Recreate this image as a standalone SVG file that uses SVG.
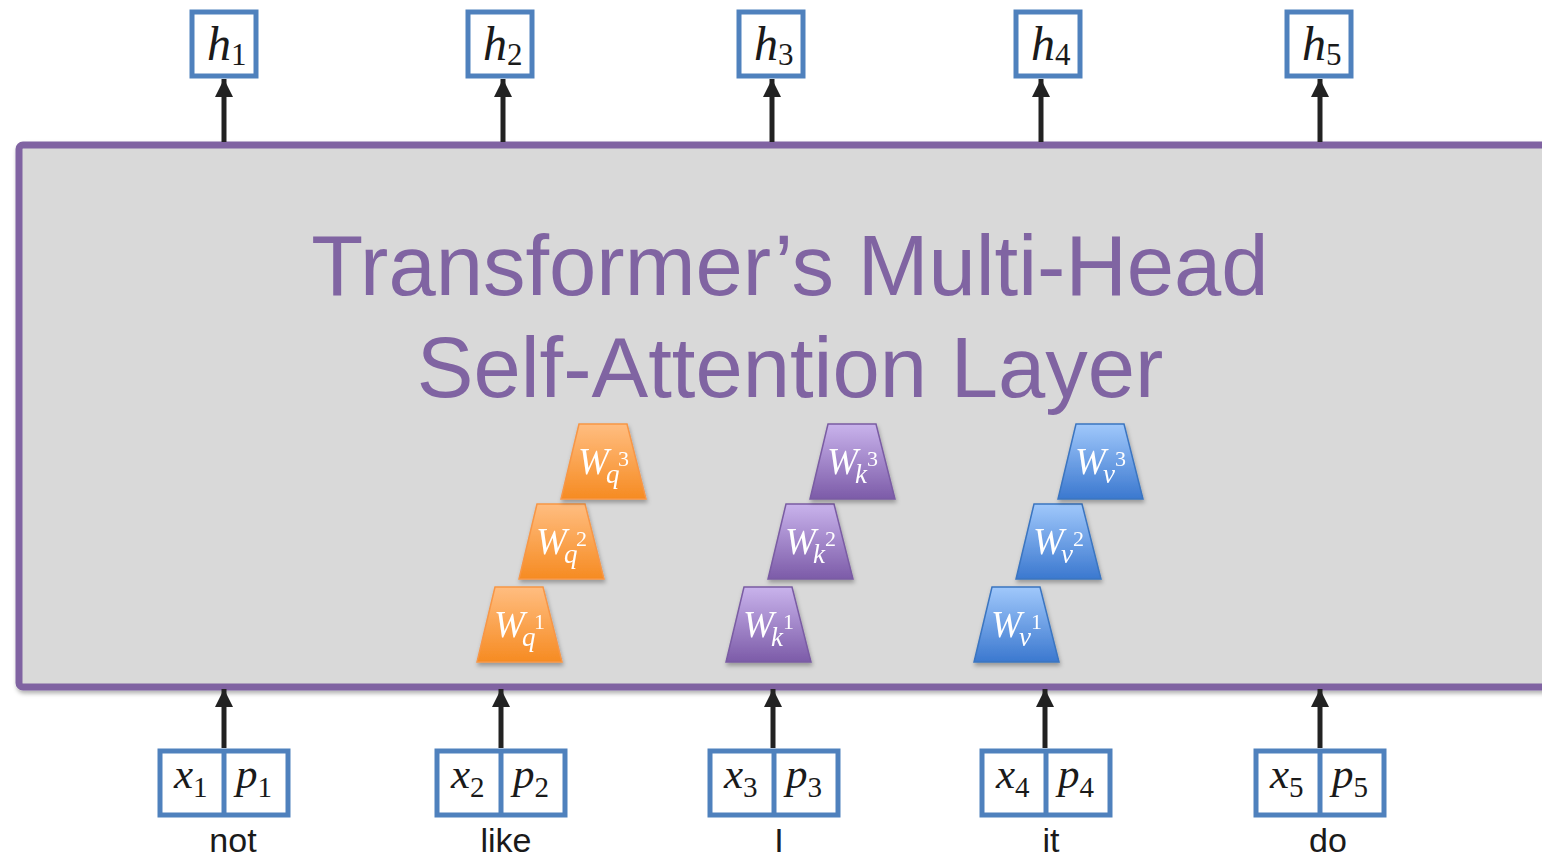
<svg xmlns="http://www.w3.org/2000/svg" width="1542" height="859" viewBox="0 0 1542 859">
<style>
.box{fill:#fff;stroke:#4f81bd;stroke-width:5}
.hm{font-family:"Liberation Serif",serif;font-style:italic;font-size:48px;fill:#1a1a1a}
.hs{font-style:normal;font-size:31px}
.math{font-family:"Liberation Serif",serif;font-style:italic;font-size:43px;fill:#1a1a1a}
.sub{font-style:normal;font-size:29px}
.word{font-family:"Liberation Sans",Arial,sans-serif;font-size:34px;fill:#1a1a1a;text-anchor:middle}
.title{font-family:"Liberation Sans",Arial,sans-serif;font-size:85px;fill:#8064a2;text-anchor:middle}
.arr{stroke:#222;stroke-width:5;fill:none}
.wlab{font-family:"Liberation Serif",serif;font-style:italic;font-size:37px;fill:#fff}
.wsup{font-style:normal;font-size:22px}
.wsub{font-size:27px}
.trq{fill:url(#gq);stroke:#f79646;stroke-width:1.5}
.trk{fill:url(#gk);stroke:#7a5ca3;stroke-width:1.5}
.trv{fill:url(#gv);stroke:#3b75c0;stroke-width:1.5}
</style>
<defs>
<linearGradient id="gq" x1="0" y1="0" x2="0" y2="1"><stop offset="0" stop-color="#ffbd80"/><stop offset="1" stop-color="#f68b22"/></linearGradient>
<linearGradient id="gk" x1="0" y1="0" x2="0" y2="1"><stop offset="0" stop-color="#c9b3ec"/><stop offset="1" stop-color="#7c5ba8"/></linearGradient>
<linearGradient id="gv" x1="0" y1="0" x2="0" y2="1"><stop offset="0" stop-color="#a0c8fb"/><stop offset="1" stop-color="#3b78cf"/></linearGradient>
<filter id="sh" x="-20%" y="-20%" width="140%" height="140%"><feDropShadow dx="1" dy="3" stdDeviation="2" flood-color="#000" flood-opacity="0.3"/></filter>
<marker id="ah" viewBox="0 0 10 10" refX="10" refY="5" markerWidth="3.6" markerHeight="3.6" orient="auto" markerUnits="strokeWidth"><path d="M0,0 L10,5 L0,10 z" fill="#222"/></marker>
</defs>

<g id="layer">
<rect x="19" y="145" width="1560" height="542" rx="4" fill="#d9d9d9" stroke="#8064a2" stroke-width="7" filter="url(#sh)"/>
<text class="title" x="790" y="295">Transformer’s Multi-Head</text>
<text class="title" x="790" y="397">Self-Attention Layer</text>
</g>

<g id="connectors">
<line class="arr" x1="224" y1="142" x2="224" y2="79" marker-end="url(#ah)"/>
<line class="arr" x1="503" y1="142" x2="503" y2="79" marker-end="url(#ah)"/>
<line class="arr" x1="772" y1="142" x2="772" y2="79" marker-end="url(#ah)"/>
<line class="arr" x1="1041" y1="142" x2="1041" y2="79" marker-end="url(#ah)"/>
<line class="arr" x1="1320" y1="142" x2="1320" y2="79" marker-end="url(#ah)"/>
<line class="arr" x1="224" y1="748" x2="224" y2="689" marker-end="url(#ah)"/>
<line class="arr" x1="501" y1="748" x2="501" y2="689" marker-end="url(#ah)"/>
<line class="arr" x1="773" y1="748" x2="773" y2="689" marker-end="url(#ah)"/>
<line class="arr" x1="1045" y1="748" x2="1045" y2="689" marker-end="url(#ah)"/>
<line class="arr" x1="1320" y1="748" x2="1320" y2="689" marker-end="url(#ah)"/>
</g>

<g id="h1"><rect class="box" x="192" y="12" width="64" height="64"/><text class="hm" x="207" y="60">h<tspan class="hs" dy="5">1</tspan></text></g>
<g id="h2"><rect class="box" x="468" y="12" width="64" height="64"/><text class="hm" x="483" y="60">h<tspan class="hs" dy="5">2</tspan></text></g>
<g id="h3"><rect class="box" x="739" y="12" width="64" height="64"/><text class="hm" x="754" y="60">h<tspan class="hs" dy="5">3</tspan></text></g>
<g id="h4"><rect class="box" x="1016" y="12" width="64" height="64"/><text class="hm" x="1031" y="60">h<tspan class="hs" dy="5">4</tspan></text></g>
<g id="h5"><rect class="box" x="1287" y="12" width="64" height="64"/><text class="hm" x="1302" y="60">h<tspan class="hs" dy="5">5</tspan></text></g>

<g id="in1"><rect class="box" x="160" y="751" width="128" height="64"/><line x1="224" y1="751" x2="224" y2="815" stroke="#4f81bd" stroke-width="5"/>
<text class="math" x="174" y="788">x<tspan class="sub" dy="9">1</tspan></text><text class="math" x="236" y="788">p<tspan class="sub" dy="9">1</tspan></text>
<text class="word" x="233" y="852">not</text></g>
<g id="in2"><rect class="box" x="437" y="751" width="128" height="64"/><line x1="501" y1="751" x2="501" y2="815" stroke="#4f81bd" stroke-width="5"/>
<text class="math" x="451" y="788">x<tspan class="sub" dy="9">2</tspan></text><text class="math" x="513" y="788">p<tspan class="sub" dy="9">2</tspan></text>
<text class="word" x="506" y="852">like</text></g>
<g id="in3"><rect class="box" x="710" y="751" width="128" height="64"/><line x1="774" y1="751" x2="774" y2="815" stroke="#4f81bd" stroke-width="5"/>
<text class="math" x="724" y="788">x<tspan class="sub" dy="9">3</tspan></text><text class="math" x="786" y="788">p<tspan class="sub" dy="9">3</tspan></text>
<text class="word" x="779" y="852">I</text></g>
<g id="in4"><rect class="box" x="982" y="751" width="128" height="64"/><line x1="1046" y1="751" x2="1046" y2="815" stroke="#4f81bd" stroke-width="5"/>
<text class="math" x="996" y="788">x<tspan class="sub" dy="9">4</tspan></text><text class="math" x="1058" y="788">p<tspan class="sub" dy="9">4</tspan></text>
<text class="word" x="1051" y="852">it</text></g>
<g id="in5"><rect class="box" x="1256" y="751" width="128" height="64"/><line x1="1320" y1="751" x2="1320" y2="815" stroke="#4f81bd" stroke-width="5"/>
<text class="math" x="1270" y="788">x<tspan class="sub" dy="9">5</tspan></text><text class="math" x="1332" y="788">p<tspan class="sub" dy="9">5</tspan></text>
<text class="word" x="1328" y="852">do</text></g>

<g id="wq1" filter="url(#sh)"><path class="trq" d="M495,587 L543,587 L562,662 L477,662 Z"/><text class="wlab" x="494" y="637">W<tspan class="wsup" x="534" y="629">1</tspan><tspan class="wsub" x="522" y="646">q</tspan></text></g>
<g id="wq2" filter="url(#sh)"><path class="trq" d="M537,504 L585,504 L604,579 L519,579 Z"/><text class="wlab" x="536" y="554">W<tspan class="wsup" x="576" y="546">2</tspan><tspan class="wsub" x="564" y="563">q</tspan></text></g>
<g id="wq3" filter="url(#sh)"><path class="trq" d="M579,424 L627,424 L646,499 L561,499 Z"/><text class="wlab" x="578" y="474">W<tspan class="wsup" x="618" y="466">3</tspan><tspan class="wsub" x="606" y="483">q</tspan></text></g>

<g id="wk1" filter="url(#sh)"><path class="trk" d="M744,587 L792,587 L811,662 L726,662 Z"/><text class="wlab" x="743" y="637">W<tspan class="wsup" x="783" y="629">1</tspan><tspan class="wsub" x="771" y="646">k</tspan></text></g>
<g id="wk2" filter="url(#sh)"><path class="trk" d="M786,504 L834,504 L853,579 L768,579 Z"/><text class="wlab" x="785" y="554">W<tspan class="wsup" x="825" y="546">2</tspan><tspan class="wsub" x="813" y="563">k</tspan></text></g>
<g id="wk3" filter="url(#sh)"><path class="trk" d="M828,424 L876,424 L895,499 L810,499 Z"/><text class="wlab" x="827" y="474">W<tspan class="wsup" x="867" y="466">3</tspan><tspan class="wsub" x="855" y="483">k</tspan></text></g>

<g id="wv1" filter="url(#sh)"><path class="trv" d="M992,587 L1040,587 L1059,662 L974,662 Z"/><text class="wlab" x="991" y="637">W<tspan class="wsup" x="1031" y="629">1</tspan><tspan class="wsub" x="1019" y="646">v</tspan></text></g>
<g id="wv2" filter="url(#sh)"><path class="trv" d="M1034,504 L1082,504 L1101,579 L1016,579 Z"/><text class="wlab" x="1033" y="554">W<tspan class="wsup" x="1073" y="546">2</tspan><tspan class="wsub" x="1061" y="563">v</tspan></text></g>
<g id="wv3" filter="url(#sh)"><path class="trv" d="M1076,424 L1124,424 L1143,499 L1058,499 Z"/><text class="wlab" x="1075" y="474">W<tspan class="wsup" x="1115" y="466">3</tspan><tspan class="wsub" x="1103" y="483">v</tspan></text></g>
</svg>
